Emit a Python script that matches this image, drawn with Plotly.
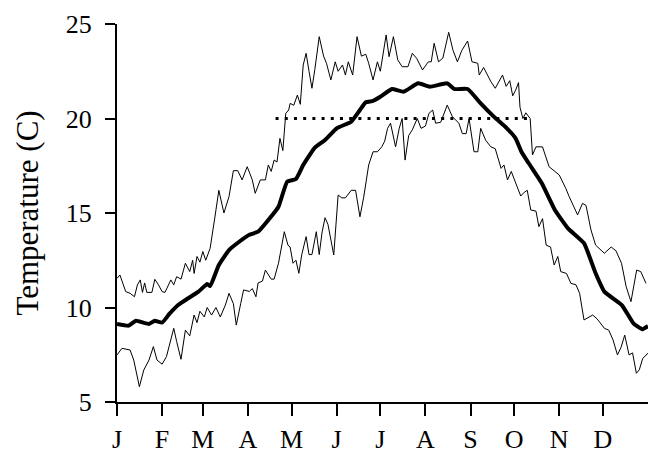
import plotly.graph_objects as go

# Day-of-year sample positions and values
mean_days = [0, 8, 13, 18, 22, 26, 31, 36, 42, 49, 56, 62, 64, 70, 77, 84, 91, 97, 105, 111,
             117, 123, 128, 136, 143, 151, 161, 167, 171, 176, 181, 189, 197, 207, 215, 227,
             232, 241, 250, 259, 268, 274, 278, 283, 292, 301, 310, 321, 329, 335, 347, 355,
             361, 365]
mean_temp = [9.13, 9.04, 9.3, 9.2, 9.13, 9.3, 9.2, 9.66, 10.13, 10.49, 10.84, 11.24, 11.13,
             12.25, 13.04, 13.48, 13.85, 14.01, 14.72, 15.33, 16.66, 16.8, 17.54, 18.46, 18.86,
             19.48, 19.83, 20.45, 20.86, 20.93, 21.15, 21.56, 21.42, 21.86, 21.68, 21.86, 21.56,
             21.56, 20.8, 20.1, 19.48, 18.95, 18.24, 17.63, 16.57, 15.16, 14.19, 13.4, 11.81,
             10.84, 10.13, 9.16, 8.85, 9.02]

upper_days = [0, 2, 6, 9, 12, 14, 16, 17.5, 19, 20.5, 24, 26, 28.5, 31, 33, 37, 39, 41, 44, 47,
              50, 52, 53, 55, 57, 59, 61, 64, 67, 70, 73.5, 77, 80, 83, 86, 89.5, 93, 95, 98.5,
              102, 104, 106, 108, 110, 112, 114, 116, 118, 119, 121.5, 124, 126, 128, 130, 132,
              134, 136, 139, 142, 144, 147, 150, 152, 155, 157, 159, 162, 165, 168, 171, 173,
              176, 179, 181, 185, 187, 190, 193, 196, 200, 203, 206, 210, 214, 216, 218, 221,
              224, 228, 231, 234, 237, 241, 244, 248, 249, 252, 257, 260, 265, 267.5, 270, 272,
              274, 276, 277, 279, 281, 284, 285.6, 288, 292.5, 297, 304, 308.5, 310.8, 316.6,
              320, 322.4, 325.8, 329, 335, 339.7, 343, 346.8, 350, 353.3, 357.2, 360, 363.6]
upper_temp = [11.54, 11.72, 10.84, 10.75, 10.57, 11.19, 11.46, 10.8, 11.3, 10.8, 10.8, 11.49,
              11.2, 10.84, 10.8, 11.46, 11.2, 11.63, 11.5, 12.34, 11.9, 12.5, 11.8, 12.7, 12.4,
              12.96, 12.5, 13.13, 14.63, 16.2, 15.0, 15.87, 17.24, 17.24, 16.75, 17.45, 16.75,
              16.04, 16.75, 16.75, 17.54, 17.2, 17.8, 17.7, 18.95, 18.3, 20.27, 20.45, 20.8,
              20.7, 21.24, 20.75, 22.83, 23.45, 22.5, 21.6, 22.6, 24.33, 23.3, 22.92, 22.04,
              23.0, 22.5, 22.83, 22.3, 23.0, 22.3, 24.33, 23.3, 23.4, 22.92, 22.04, 23.0, 22.5,
              24.42, 23.27, 24.33, 23.1, 22.74, 22.74, 23.45, 23.18, 22.57, 23.0, 23.0, 23.98,
              23.0, 23.2, 24.56, 23.6, 23.0, 23.6, 24.1, 23.0, 22.92, 22.3, 22.7, 21.95, 21.6,
              22.3, 21.7, 22.0, 21.2, 21.5, 21.9, 20.6, 20.0, 20.3, 20.0, 18.07, 18.5, 18.5,
              17.45, 17.01, 16.3, 15.87, 14.9, 15.51, 15.4, 14.1, 13.3, 12.87, 13.2, 13.0, 12.34,
              11.1, 10.31, 11.98, 11.9, 11.28]

lower_days = [0, 3.4, 9, 11.5, 15.4, 18.4, 22, 25, 27.5, 31, 34, 39, 41, 44, 47, 50, 53, 55, 57,
              60, 62, 65, 68, 71, 74.5, 77, 80, 82, 85, 87, 91, 93, 95.5, 97, 100, 102, 106, 108,
              111, 115, 117.5, 119, 121, 123, 125, 127, 130, 132, 134, 137, 139, 141, 143, 145,
              149, 152, 154.5, 157, 161, 164, 167, 169.5, 173, 176, 179, 182, 184, 186, 188,
              191.5, 194, 196, 198, 200.5, 203, 206.4, 209, 212, 214.4, 217, 219, 222.5, 227,
              230.5, 235, 237.4, 240, 242, 245.4, 248, 250, 253.4, 257, 260, 264, 266, 268.4,
              271, 273, 275.3, 277.5, 280, 282, 284.4, 288, 290, 292.5, 295, 298, 300.5, 303,
              305, 309, 312, 315.5, 318, 321, 327, 330, 335, 338, 341, 344, 346.5, 349, 352,
              354.4, 357, 359, 361.4, 365]
lower_temp = [7.49, 7.84, 7.75, 7.22, 5.81, 6.69, 7.22, 7.93, 7.22, 7.0, 7.4, 8.9, 8.2, 7.26,
              8.8, 8.5, 9.6, 9.2, 9.8, 9.5, 10.0, 9.6, 10.0, 9.5, 10.13, 10.75, 10.2, 9.07, 10.2,
              10.93, 10.85, 11.0, 10.57, 11.3, 11.4, 11.98, 11.5, 11.5, 12.34, 14.01, 13.3, 13.2,
              12.34, 12.5, 11.81, 12.8, 13.75, 12.8, 12.8, 14.01, 12.8, 14.0, 14.75, 14.4, 12.78,
              15.95, 15.8, 15.8, 16.2, 16.2, 14.8, 15.8, 17.54, 18.24, 18.24, 18.5, 18.8, 19.48,
              19.75, 18.5, 19.48, 20.0, 17.8, 19.1, 19.4, 20.0, 19.48, 19.6, 20.27, 20.45, 19.75,
              19.8, 20.71, 20.1, 19.75, 19.2, 19.2, 20.0, 18.24, 18.24, 19.48, 18.85, 18.5, 18.4,
              17.36, 17.54, 16.75, 17.2, 16.8, 16.3, 15.9, 16.1, 16.2, 15.16, 15.1, 14.28, 14.7,
              13.3, 13.2, 12.25, 12.7, 11.9, 11.8, 11.28, 11.2, 10.75, 9.34, 9.6, 9.4, 8.9, 8.8,
              8.28, 7.49, 7.9, 8.54, 7.49, 7.6, 6.52, 6.7, 7.31, 7.58]

threshold_days = [109, 284]
threshold_temp = [20, 20]

month_starts = [0, 31, 59, 90, 120, 151, 181, 212, 243, 273, 304, 334]
month_labels = ["J", "F", "M", "A", "M", "J", "J", "A", "S", "O", "N", "D"]
y_ticks = [5, 10, 15, 20, 25]

FONT = "Liberation Serif, Times New Roman, serif"

fig = go.Figure()
fig.add_trace(go.Scatter(x=upper_days, y=upper_temp, mode="lines",
                         line=dict(color="black", width=1)))
fig.add_trace(go.Scatter(x=lower_days, y=lower_temp, mode="lines",
                         line=dict(color="black", width=1)))
fig.add_trace(go.Scatter(x=threshold_days, y=threshold_temp, mode="lines",
                         line=dict(color="black", width=3, dash="3px,6.2px")))
fig.add_trace(go.Scatter(x=mean_days, y=mean_temp, mode="lines",
                         line=dict(color="black", width=4, shape="spline", smoothing=0.4)))

fig.update_layout(
    width=649, height=454,
    margin=dict(l=117, r=1, t=24, b=52),
    paper_bgcolor="white", plot_bgcolor="white",
    showlegend=False,
    font=dict(family=FONT, color="black", size=26),
)
fig.update_xaxes(
    range=[0, 365], tickmode="array", tickvals=month_starts, ticktext=month_labels,
    showgrid=False, zeroline=False, showline=True, linecolor="black", linewidth=2,
    ticks="outside", ticklen=12, tickwidth=2, tickcolor="black", automargin=False,
    tickfont=dict(family=FONT, size=26, color="black"), ticklabelstandoff=1,
)
fig.update_yaxes(
    range=[5, 25], tickmode="array", tickvals=y_ticks, automargin=False,
    showgrid=False, zeroline=False, showline=True, linecolor="black", linewidth=2,
    ticks="outside", ticklen=10, tickwidth=2, tickcolor="black",
    tickfont=dict(family=FONT, size=26, color="black"), ticklabelstandoff=8,
    title=dict(text="Temperature (C)", font=dict(family=FONT, size=31, color="black"),
               standoff=18),
)

fig.write_html(
    "out.html",
    config={"displayModeBar": False},
    post_script="document.body.style.margin='0';document.body.style.overflow='hidden';",
)
